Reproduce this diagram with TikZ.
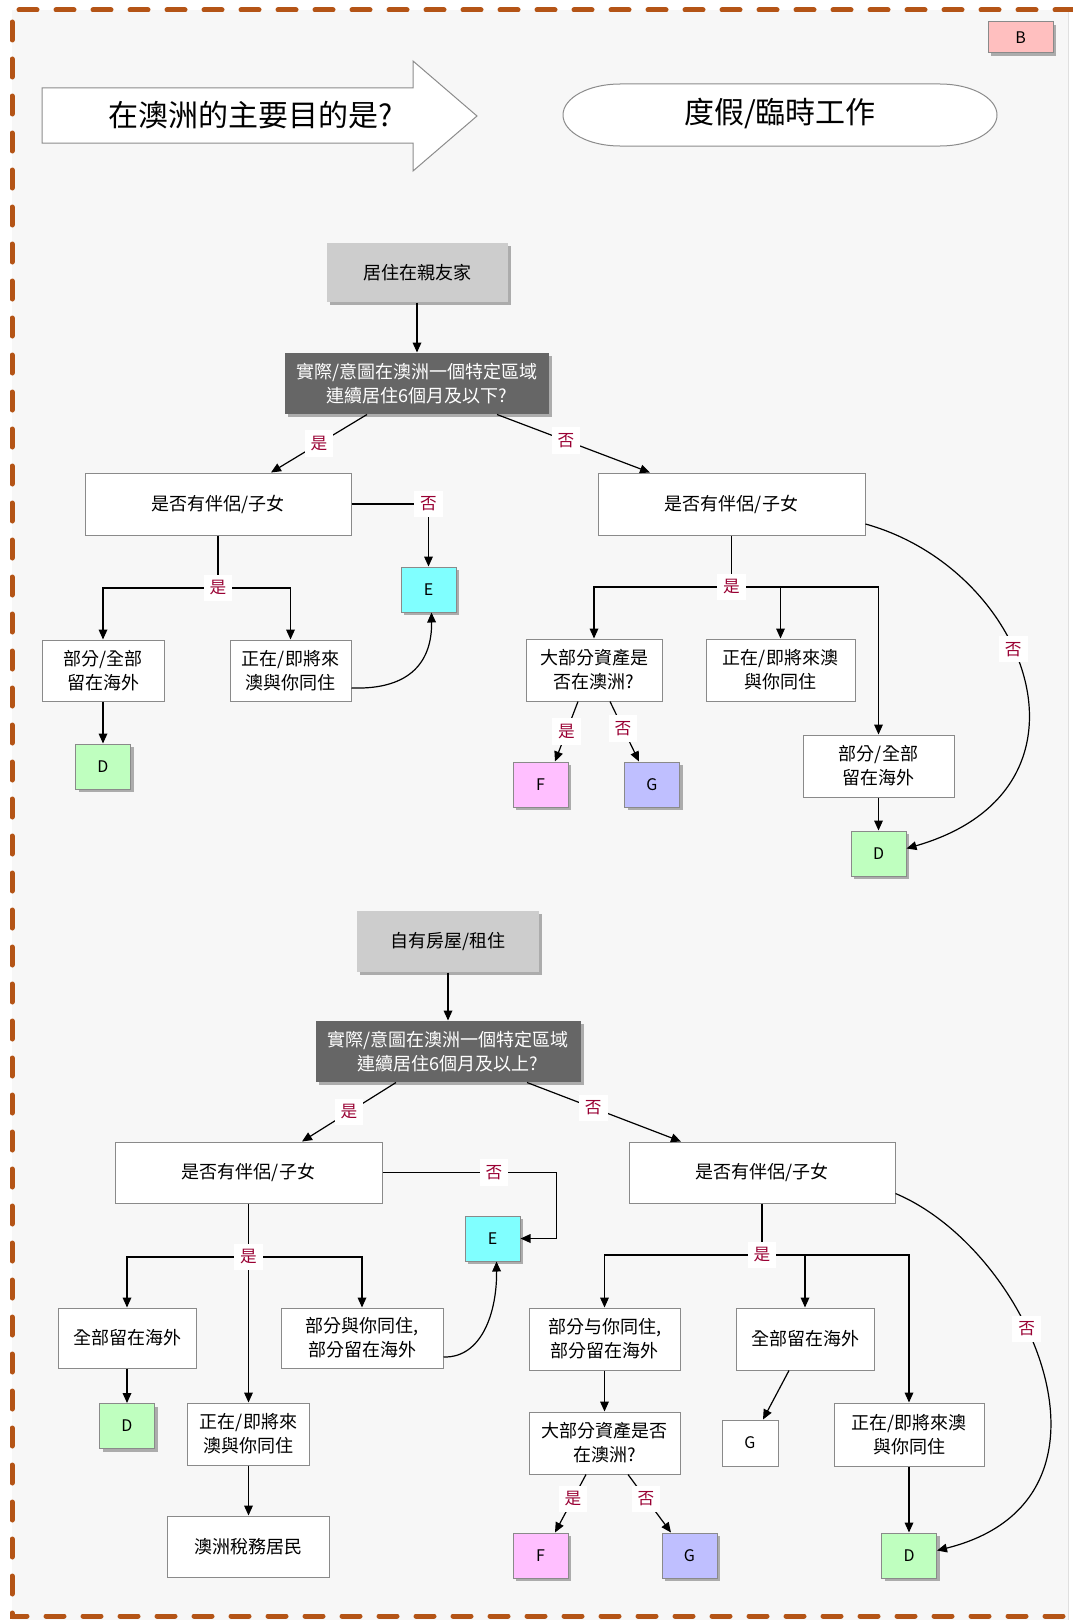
\documentclass[tikz,border=0pt]{standalone}
\usepackage{fontspec}
\setmainfont{Noto Sans CJK TC}
\usetikzlibrary{arrows.meta,calc,shadows}

\definecolor{bgGray}{HTML}{F7F7F7}
\definecolor{frameBrown}{RGB}{180,84,22}
\definecolor{boxEdge}{HTML}{8A8A8A}
\definecolor{startGray}{HTML}{CDCDCD}
\definecolor{askGray}{HTML}{666666}
\definecolor{ynRed}{HTML}{990033}
\definecolor{tagPink}{HTML}{FFBFBF}
\definecolor{tagCyan}{HTML}{80FFFF}
\definecolor{tagGreen}{HTML}{BFFFBF}
\definecolor{tagViolet}{HTML}{FFBFFF}
\definecolor{tagBlue}{HTML}{BFBFFF}

\newcommand\px{*0.75pt}
\newcommand\boxfont{\fontsize{13.5}{18}\selectfont}
\newcommand\headfont{\fontsize{22.5}{26}\selectfont}
\newcommand\ynfont{\fontsize{12.5}{14}\selectfont}
\newcommand\tagfont{\fontsize{12}{14}\selectfont}

\tikzset{
  frameline/.style={draw=frameBrown, line width=3.75pt, line cap=round, dash pattern=on 13.5pt off 14.25pt},
  flowbox/.style={draw=boxEdge, fill=white, line width=0.75pt, inner sep=0pt, align=center, font=\boxfont},
  boxshadow/.style={drop shadow={shadow xshift=2.25pt, shadow yshift=-2.25pt, fill=black, opacity=0.3}},
  startbox/.style={flowbox, draw=none, fill=startGray, boxshadow},
  askbox/.style={flowbox, draw=none, fill=askGray, text=white, boxshadow},
  tagbox/.style={flowbox, minimum width=55\px, minimum height=45\px, font=\tagfont, boxshadow},
  ynlabel/.style={fill=white, text=ynRed, inner sep=4.5pt, font=\ynfont},
  flowarrow/.style={-{Triangle[length=7.5pt,width=6.5pt]}, line width=0.9pt},
  flowline/.style={line width=0.9pt},
}

\begin{document}
\begin{tikzpicture}[x=0.75pt,y=0.75pt,yscale=-1,xscale=1]
\useasboundingbox (0,0) rectangle (1073,1620);

%Shape: Background
\fill[bgGray] (12,10) rectangle (1068,1620);
\draw[black!12, line width=0.75pt] (1068,10) -- (1068,1620);
%Shape: Dashed frame
\draw[frameline] (1073,10) -- (12,10) -- (12,1616) -- (1073,1616);

%Shape: Right Arrow
\draw[fill=white, draw=black!45, line width=0.75pt] (42,88) -- (413,88) -- (413,61) -- (477,116) -- (413,171) -- (413,143) -- (42,143) -- cycle;
% Text Node
\node[font=\headfont] (goal) at (251,115) {在澳洲的主要目的是?};

%Shape: Rounded Rectangle
\draw[fill=white, draw=black!45, line width=0.75pt] (620,84) -- (940,84) arc[start angle=-90, end angle=90, x radius=57, y radius=31] -- (620,146) arc[start angle=90, end angle=270, x radius=57, y radius=31] -- cycle;
% Text Node
\node[font=\headfont] (holiday) at (780,114) {度假/臨時工作};

%Shape: Rectangle
\node[flowbox, minimum width=65\px, minimum height=31\px, fill=tagPink, font=\tagfont, boxshadow] (tagB) at (1020.5,37.5) {B};

%%%%%%%% upper chart
\node[startbox, minimum width=181\px, minimum height=59\px] (stay1) at (417,272.5) {居住在親友家};
\node[askbox, minimum width=264\px, minimum height=61\px] (q1) at (417,383.5) {實際/意圖在澳洲一個特定區域\\連續居住6個月及以下?};
\node[flowbox, minimum width=266\px, minimum height=62\px] (p1L) at (218,504) {是否有伴侶/子女};
\node[flowbox, minimum width=267\px, minimum height=62\px] (p1R) at (731.5,504) {是否有伴侶/子女};
\node[tagbox, fill=tagCyan] (E1) at (428.5,589.5) {E};
\node[flowbox, minimum width=122\px, minimum height=61\px] (a1) at (103,670.5) {部分/全部\\留在海外};
\node[flowbox, minimum width=121\px, minimum height=61\px] (b1) at (290.5,670.5) {正在/即將來\\澳與你同住};
\node[tagbox, fill=tagGreen] (D1) at (103,766.5) {D};
\node[flowbox, minimum width=136\px, minimum height=62\px] (c1) at (594,670) {大部分資產是\\否在澳洲?};
\node[flowbox, minimum width=149\px, minimum height=62\px] (d1) at (780.5,670) {正在/即將來澳\\與你同住};
\node[flowbox, minimum width=151\px, minimum height=62\px] (e1) at (878.5,766) {部分/全部\\留在海外};
\node[tagbox, fill=tagGreen] (D2) at (878.5,853.5) {D};
\node[tagbox, fill=tagViolet] (F1) at (540.5,784.5) {F};
\node[tagbox, fill=tagBlue] (G1) at (652,784.5) {G};
\coordinate (j1) at (218,588);
\coordinate (j2) at (731.5,587);

%Straight Lines
\draw[flowarrow] (stay1) -- (q1);
\draw[flowarrow] ($(q1.south)+(-50,0)$) -- node[ynlabel]{是} ($(p1L.north)+(53,0)$);
\draw[flowarrow] ($(q1.south)+(80,0)$) -- node[ynlabel, pos=0.45]{否} ($(p1R.north)+(-81.5,0)$);
\draw[flowarrow] (p1L.east) -| node[ynlabel]{否} (E1.north);
\draw[flowline] (p1L.south) -- (j1);
\draw[flowarrow] (j1) -| (a1.north);
\draw[flowarrow] (j1) -| (b1.north);
\node[ynlabel] (yes1) at (j1) {是};
\draw[flowarrow] (a1) -- (D1);
%Curve Lines
\draw[flowarrow] ($(b1.east)+(0,17.5)$) .. controls (412,690) and (432,660) .. ($(E1.south)+(3,0)$);
\draw[flowline] (p1R.south) -- (j2);
\draw[flowarrow] (j2) -| (c1.north);
\draw[flowarrow] (j2) -| (d1.north);
\draw[flowarrow] (j2) -| (e1.north);
\node[ynlabel] (yes2) at (j2) {是};
\draw[flowarrow] (e1) -- (D2);
\draw[flowarrow] ($(c1.south)+(-16,0)$) -- node[ynlabel]{是} ($(F1.north)+(14.5,0)$);
\draw[flowarrow] ($(c1.south)+(16,0)$) -- node[ynlabel, pos=0.45]{否} ($(G1.north)+(-13,0)$);
%Curve Lines
\draw[flowarrow] ($(p1R.east)+(0,20)$) .. controls (1030,570) and (1110,790) .. node[ynlabel, pos=0.42]{否} ($(D2.east)+(0,-5)$);

%%%%%%%% lower chart
\node[startbox, minimum width=182\px, minimum height=61\px] (stay2) at (448,941.5) {自有房屋/租住};
\node[askbox, minimum width=265\px, minimum height=61\px] (q2) at (448,1051.5) {實際/意圖在澳洲一個特定區域\\連續居住6個月及以上?};
\node[flowbox, minimum width=267\px, minimum height=61\px] (p2L) at (248.5,1172.5) {是否有伴侶/子女};
\node[flowbox, minimum width=266\px, minimum height=61\px] (p2R) at (762,1172.5) {是否有伴侶/子女};
\node[tagbox, fill=tagCyan] (E2) at (492.5,1238.5) {E};
\node[flowbox, minimum width=138\px, minimum height=60\px] (a2) at (127,1338) {全部留在海外};
\node[flowbox, minimum width=162\px, minimum height=60\px] (c2) at (362,1338) {部分與你同住,\\部分留在海外};
\node[tagbox, fill=tagGreen] (D3) at (127,1426) {D};
\node[flowbox, minimum width=122\px, minimum height=62\px] (b2) at (248.5,1434) {正在/即將來\\澳與你同住};
\node[flowbox, minimum width=162\px, minimum height=61\px] (t2) at (248.5,1546.5) {澳洲稅務居民};
\node[flowbox, minimum width=151\px, minimum height=62\px] (f2) at (604.5,1339) {部分与你同住,\\部分留在海外};
\node[flowbox, minimum width=138\px, minimum height=62\px] (g2) at (805,1339) {全部留在海外};
\node[flowbox, minimum width=150\px, minimum height=63\px] (h2) at (909,1434.5) {正在/即將來澳\\與你同住};
\node[flowbox, minimum width=151\px, minimum height=62\px] (k2) at (604.5,1443) {大部分資產是否\\在澳洲?};
\node[flowbox, minimum width=56\px, minimum height=46\px, font=\tagfont] (Gw) at (750,1443) {G};
\node[tagbox, fill=tagViolet] (F2) at (540.5,1555.5) {F};
\node[tagbox, fill=tagBlue] (G2) at (689.5,1555.5) {G};
\node[tagbox, fill=tagGreen] (D4) at (909,1555.5) {D};
\coordinate (j3) at (248.5,1257);
\coordinate (j4) at (762,1255);

%Straight Lines
\draw[flowarrow] (stay2) -- (q2);
\draw[flowarrow] ($(q2.south)+(-52,0)$) -- node[ynlabel]{是} ($(p2L.north)+(53.5,0)$);
\draw[flowarrow] ($(q2.south)+(79,0)$) -- node[ynlabel, pos=0.43]{否} ($(p2R.north)+(-81,0)$);
\draw[flowarrow] (p2L.east) -- node[ynlabel, pos=0.64]{否} ($(p2L.east)+(174,0)$) |- (E2.east);
\draw[flowarrow] (p2L.south) -- (b2.north);
\draw[flowarrow] (j3) -| (a2.north);
\draw[flowarrow] (j3) -| (c2.north);
\node[ynlabel] (yes3) at (j3) {是};
\draw[flowarrow] (a2) -- (D3);
\draw[flowarrow] (b2) -- (t2);
%Curve Lines
\draw[flowarrow] ($(c2.east)+(0,19)$) .. controls (482,1358) and (497,1312) .. ($(E2.south)+(4,0)$);
\draw[flowline] (p2R.south) -- (j4);
\draw[flowarrow] (j4) -| (f2.north);
\draw[flowarrow] (j4) -| (g2.north);
\draw[flowarrow] (j4) -| (h2.north);
\node[ynlabel] (yes4) at (j4) {是};
\draw[flowarrow] (f2) -- (k2);
\draw[flowarrow] ($(g2.south)+(-16,0)$) -- ($(Gw.north)+(13,0)$);
\draw[flowarrow] (h2) -- (D4);
\draw[flowarrow] ($(k2.south)+(-18.5,0)$) -- node[ynlabel, pos=0.42]{是} ($(F2.north)+(14.5,0)$);
\draw[flowarrow] ($(k2.south)+(23.5,0)$) -- node[ynlabel, pos=0.42]{否} ($(G2.north)+(-18.5,0)$);
%Curve Lines
\draw[flowarrow] ($(p2R.east)+(0,21)$) .. controls (1030,1250) and (1140,1500) .. node[ynlabel, pos=0.4]{否} ($(D4.east)+(0,-5)$);

\end{tikzpicture}
\end{document}
